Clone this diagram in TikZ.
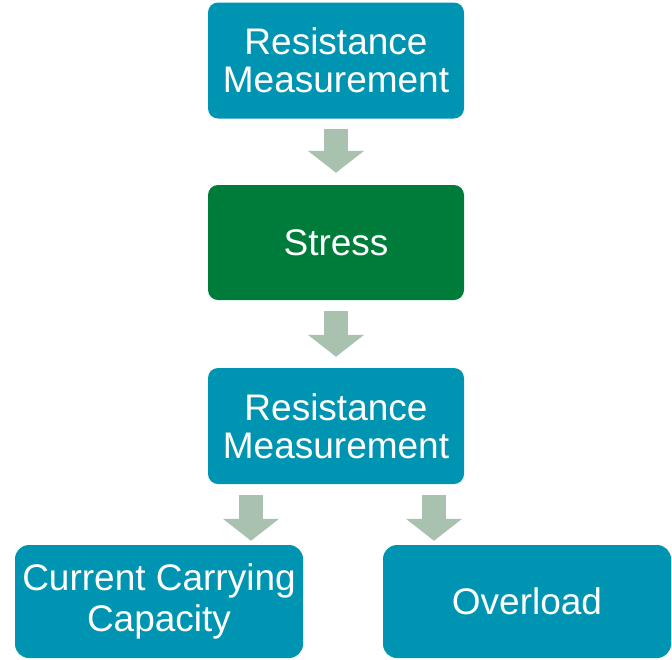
\documentclass[tikz,border=0pt]{standalone}
\usepackage{fontspec}
\setmainfont{Liberation Sans}
\usetikzlibrary{arrows.meta}
\definecolor{boxteal}{RGB}{0,148,179}
\definecolor{boxgreen}{RGB}{0,124,58}
\definecolor{arrowgray}{RGB}{169,194,176}
\tikzset{
    stepnode/.style = {rectangle, rounded corners = 10pt, fill = boxteal, text = white, align = center,
        minimum width = 256pt, minimum height = 116pt, inner sep = 0pt,
        font = \fontsize{37}{38}\selectfont},
    endnode/.style = {stepnode, rounded corners = 14pt, minimum width = 288pt, minimum height = 113pt,
        font = \fontsize{37}{41}\selectfont},
    blockarrow/.style = {draw = arrowgray, line width = 24pt, -{Triangle[width = 55pt, length = 22pt]}}
}
\begin{document}
\begin{tikzpicture}[x = 1pt, y = -1pt]
        \useasboundingbox (0, 0) rectangle (672, 659);
        \node[stepnode] (meas1) at (336, 60.5) {Resistance\\Measurement};
        \node[stepnode, fill = boxgreen, minimum height = 115pt] (stress) at (336, 242.5) {Stress};
        \node[stepnode] (meas2) at (336, 426) {Resistance\\Measurement};
        \node[endnode] (capacity) at (159, 601.5) {Current Carrying\\Capacity};
        \node[endnode] (overload) at (527, 601.5) {Overload};

        \draw[blockarrow, shorten <= 10pt, shorten >= 12pt] (meas1.south) -- (stress.north);
        \draw[blockarrow, shorten <= 11pt, shorten >= 11pt] (stress.south) -- (meas2.north);
        \draw[blockarrow, shorten <= 11pt, shorten >= 4pt]
            ([xshift = -85pt]meas2.south) -- ([xshift = -85pt]meas2.south |- capacity.north);
        \draw[blockarrow, shorten <= 11pt, shorten >= 4pt]
            ([xshift = 98pt]meas2.south) -- ([xshift = 98pt]meas2.south |- overload.north);
    \end{tikzpicture}
\end{document}
